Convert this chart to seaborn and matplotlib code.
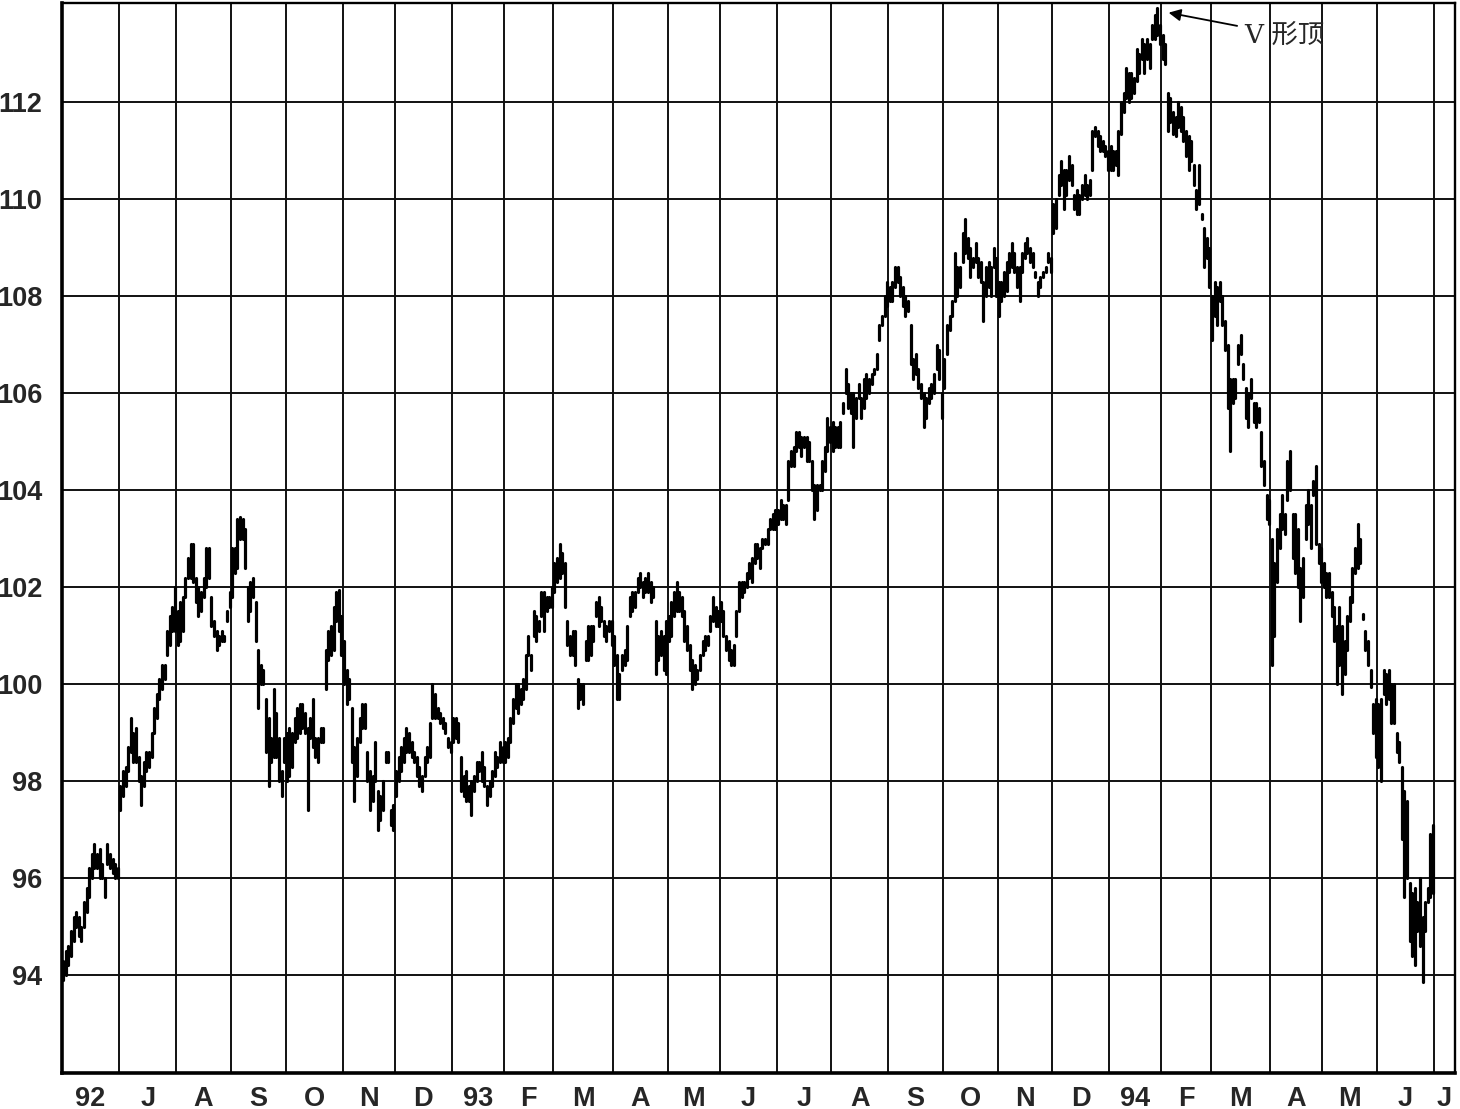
import numpy as np
import pandas as pd
import matplotlib.pyplot as plt
import seaborn as sns

# month axis: Jun 1992 .. Jul 1994 (trading days per month)
month_labels = ['92', 'J', 'A', 'S', 'O', 'N', 'D', '93', 'F', 'M', 'A', 'M', 'J',
                'J', 'A', 'S', 'O', 'N', 'D', '94', 'F', 'M', 'A', 'M', 'J', 'J']
month_days = [22, 22, 21, 21, 22, 20, 22, 20, 19, 23, 21, 20, 22,
              21, 22, 21, 21, 21, 22, 20, 19, 23, 20, 21, 22, 8]
y_ticks = [94, 96, 98, 100, 102, 104, 106, 108, 110, 112]

# daily highs / lows
hi_1992 = [
    94.3, 94.5, 94.6, 94.9, 95.2, 95.3, 95.2, 95.0, 95.5, 95.8, 96.2, 96.5, 96.7, 96.5, 96.6, 96.3, 96.0, 96.7, 96.5, 96.4, 96.3, 96.2,
    97.9, 98.2, 98.3, 98.7, 99.3, 99.0, 99.1, 98.5, 98.1, 98.4, 98.6, 98.6, 99.0, 99.5, 99.8, 100.1, 100.4, 100.4, 101.1, 101.4, 101.6, 102.0,
    101.5, 101.7, 101.8, 102.2, 102.6, 102.9, 102.9, 102.2, 102.0, 101.9, 102.2, 102.8, 102.8, 101.8, 101.3, 101.1, 101.0, 101.1, 101.0, 101.5, 101.9,
    102.8, 102.8, 103.4, 103.45, 103.4, 103.2, 102.0, 102.1, 102.2, 101.7, 100.7, 100.4, 100.3, 99.7, 99.3, 98.9, 99.9, 99.4, 98.9, 98.2, 98.9,
    99.0, 99.1, 99.0, 99.3, 99.5, 99.6, 99.6, 99.4, 99.1, 99.3, 99.7, 98.9, 98.9, 99.1, 99.1, 100.7, 101.1, 101.2, 101.6, 101.9, 101.95, 101.4,
    100.9, 100.3, 100.1, 99.5, 98.7, 98.9, 99.3, 99.6, 99.6, 98.6, 98.2, 98.1, 98.8, 97.8, 97.7, 98.0, 98.6, 98.6, 97.4, 97.5,
    98.2, 98.5, 98.7, 98.9, 99.1, 99.0, 98.8, 98.6, 98.5, 98.3, 98.1, 98.5, 98.7, 99.2, 100.0, 99.8, 99.5, 99.4, 99.3, 99.2, 98.9, 98.8]
lo_1992 = [
    93.9, 94.0, 94.2, 94.4, 94.7, 95.0, 94.8, 94.7, 95.0, 95.3, 95.6, 96.0, 96.2, 96.2, 96.0, 96.0, 95.6, 96.3, 96.2, 96.1, 96.0, 96.0,
    97.4, 97.7, 97.9, 98.2, 98.6, 98.4, 98.4, 98.0, 97.5, 97.9, 98.2, 98.3, 98.5, 99.0, 99.3, 99.7, 99.9, 100.1, 100.6, 100.8, 101.1, 101.1,
    100.8, 100.9, 101.1, 101.8, 102.2, 102.2, 102.1, 101.7, 101.4, 101.5, 101.8, 102.0, 102.2, 101.2, 101.0, 100.7, 100.8, 100.9, 100.9, 101.3, 101.6,
    101.8, 102.3, 102.4, 103.0, 103.0, 102.4, 101.3, 101.5, 101.8, 100.9, 99.5, 100.0, 100.0, 98.6, 97.9, 98.4, 98.5, 98.5, 98.0, 97.7, 98.4,
    98.0, 98.1, 98.3, 98.8, 98.9, 99.0, 99.1, 99.0, 97.4, 98.9, 98.7, 98.5, 98.4, 98.8, 98.8, 99.9, 100.5, 100.6, 100.7, 101.3, 101.1, 100.6,
    100.0, 99.6, 99.7, 98.4, 97.6, 98.1, 98.8, 99.1, 99.1, 98.0, 97.4, 97.6, 98.0, 97.0, 97.2, 97.4, 98.4, 98.4, 97.1, 97.0,
    97.7, 98.0, 98.2, 98.4, 98.6, 98.6, 98.5, 98.4, 98.1, 97.9, 97.8, 98.1, 98.4, 98.5, 99.3, 99.3, 99.3, 99.2, 99.1, 99.0, 98.7, 98.6]

hi_1993 = [
    99.3, 99.3, 99.2, 98.5, 98.1, 98.2, 97.9, 98.0, 98.1, 98.4, 98.4, 98.6, 98.3, 97.9, 98.0, 98.2, 98.6, 98.5, 98.8, 98.7,
    98.8, 98.9, 99.3, 99.7, 100.0, 100.0, 99.9, 100.1, 100.6, 101.0, 100.6, 101.5, 101.4, 101.3, 101.9, 101.9, 101.8, 101.8, 102.0,
    102.5, 102.6, 102.9, 102.7, 102.5, 101.3, 101.0, 101.1, 101.1, 100.1, 100.0, 100.0, 100.9, 101.2, 101.2, 101.2, 101.7, 101.8, 101.6, 101.3, 101.2, 101.3, 101.3,
    101.0, 100.6, 100.2, 100.6, 100.7, 101.2, 101.8, 101.9, 101.9, 102.2, 102.3, 102.1, 102.2, 102.3, 102.1, 102.0, 101.3, 101.0, 101.1, 101.0, 101.3,
    101.4, 101.7, 101.9, 102.1, 101.9, 101.8, 101.5, 101.2, 100.8, 100.5, 100.4, 100.3, 100.6, 100.9, 101.0, 101.0, 101.4, 101.8, 101.6, 101.5,
    101.7, 101.5, 101.0, 100.9, 100.7, 100.8, 101.5, 102.1, 102.1, 102.1, 102.3, 102.5, 102.6, 102.9, 102.9, 102.8, 103.0, 103.0, 103.2, 103.4, 103.5, 103.6,
    103.6, 103.8, 103.7, 103.7, 104.6, 104.8, 104.9, 105.2, 105.2, 105.1, 105.1, 105.1, 105.0, 104.6, 104.1, 104.1, 104.1, 104.6, 104.9, 105.5, 105.3,
    105.4, 105.3, 105.3, 105.4, 105.8, 106.5, 106.2, 106.0, 106.0, 105.9, 106.2, 105.9, 106.3, 106.4, 106.3, 106.4, 106.5, 106.8, 107.4, 107.6, 108.0, 108.3,
    108.2, 108.3, 108.6, 108.6, 108.4, 108.2, 108.0, 107.9, 107.4, 106.7, 106.8, 106.5, 106.2, 106.0, 105.9, 106.1, 106.2, 106.4, 107.0, 106.9, 106.0,
    106.7, 107.4, 107.6, 107.9, 108.9, 108.6, 108.6, 109.3, 109.6, 109.2, 109.0, 108.8, 109.1, 108.8, 108.7, 108.3, 108.6, 108.7, 108.6, 109.0, 108.8,
    108.3, 108.3, 108.5, 108.7, 108.9, 109.1, 108.9, 108.6, 108.6, 108.9, 109.1, 109.2, 109.0, 108.9, 108.5, 108.3, 108.4, 108.5, 108.6, 108.9, 108.8,
    109.9, 110.0, 110.5, 110.8, 110.6, 110.6, 110.9, 110.7, 110.1, 110.2, 110.1, 110.3, 110.5, 110.3, 110.4, 111.4, 111.5, 111.4, 111.3, 111.2, 111.1, 111.0]
lo_1993 = [
    98.8, 98.9, 98.8, 97.8, 97.7, 97.6, 97.6, 97.3, 97.8, 98.0, 98.2, 98.0, 97.9, 97.5, 97.7, 97.9, 98.1, 98.3, 98.4, 98.4,
    98.4, 98.5, 98.8, 99.2, 99.5, 99.4, 99.6, 99.7, 99.9, 100.6, 100.3, 101.0, 100.9, 101.1, 101.4, 101.1, 101.5, 101.6, 101.6,
    101.9, 102.1, 102.2, 102.3, 101.6, 100.8, 100.6, 100.6, 100.4, 99.5, 99.7, 99.6, 100.5, 100.5, 100.6, 100.9, 101.4, 101.2, 101.3, 101.0, 100.9, 101.1, 100.8,
    100.4, 99.7, 99.7, 100.3, 100.4, 100.5, 101.4, 101.5, 101.6, 101.9, 102.0, 101.8, 101.9, 101.9, 101.7, 101.8, 100.2, 100.5, 100.6, 100.3, 100.2,
    100.9, 101.0, 101.4, 101.5, 101.5, 101.4, 100.9, 100.7, 100.3, 99.9, 100.0, 100.1, 100.3, 100.6, 100.7, 100.8, 101.1, 101.3, 101.2, 101.2,
    101.3, 101.0, 100.7, 100.5, 100.4, 100.4, 101.0, 101.5, 101.8, 101.9, 102.0, 102.2, 102.1, 102.5, 102.6, 102.4, 102.8, 102.9, 102.9, 103.2, 103.2, 103.2,
    103.3, 103.4, 103.4, 103.3, 103.8, 104.5, 104.5, 104.8, 104.9, 104.7, 104.9, 104.6, 104.6, 104.0, 103.4, 103.6, 104.0, 104.0, 104.4, 104.8, 105.0,
    104.8, 104.9, 104.9, 104.9, 105.6, 106.0, 105.7, 105.6, 104.9, 105.5, 105.9, 105.5, 105.7, 105.9, 106.0, 106.2, 106.4, 106.5, 107.1, 107.4, 107.6, 107.8,
    107.9, 107.9, 108.2, 108.3, 108.0, 107.8, 107.6, 107.7, 106.6, 106.3, 106.4, 106.1, 105.9, 105.3, 105.5, 105.8, 105.9, 106.0, 106.5, 106.3, 105.5,
    106.1, 106.8, 107.3, 107.6, 107.9, 108.0, 108.2, 108.7, 108.9, 108.8, 108.4, 108.6, 108.7, 108.4, 108.3, 107.5, 108.0, 108.2, 108.0, 108.6, 108.0,
    107.6, 107.9, 108.0, 108.1, 108.5, 108.6, 108.5, 108.2, 107.9, 108.5, 108.8, 108.9, 108.7, 108.6, 108.4, 108.0, 108.2, 108.4, 108.5, 108.7, 108.5,
    109.3, 109.4, 110.1, 110.3, 109.8, 110.1, 110.4, 110.3, 109.8, 109.7, 109.7, 110.0, 110.1, 110.0, 110.1, 110.6, 111.3, 111.1, 111.0, 111.0, 110.9, 110.6]

hi_1994 = [
    111.1, 111.0, 111.0, 111.4, 112.0, 112.2, 112.7, 112.6, 112.6, 112.5, 113.1, 113.0, 113.3, 113.2, 113.3, 113.2, 113.6, 113.8, 113.95, 113.6,
    113.4, 113.2, 112.2, 112.1, 111.8, 111.7, 112.0, 111.9, 111.7, 111.4, 111.3, 111.2, 110.7, 110.2, 110.7, 109.7, 109.4, 109.2, 109.0,
    108.0, 108.3, 108.2, 108.3, 108.0, 107.5, 107.0, 106.3, 106.3, 106.3, 107.0, 107.2, 106.6, 106.1, 106.0, 106.3, 105.8, 105.8, 105.7, 105.2, 104.6, 103.9, 103.8,
    103.0, 102.5, 103.2, 103.5, 103.9, 103.5, 104.6, 104.8, 103.5, 103.5, 103.2, 102.4, 102.6, 103.7, 104.0, 103.7, 104.2, 104.5, 102.9, 102.8,
    102.5, 102.3, 102.3, 101.9, 101.6, 101.2, 101.6, 101.2, 100.9, 101.4, 101.8, 102.4, 102.8, 103.3, 103.0, 101.45, 101.1, 100.9, 100.3, 99.6, 99.7,
    99.6, 99.7, 100.3, 100.2, 100.3, 100.0, 100.0, 99.0, 98.8, 98.3, 97.8, 97.6, 95.9, 95.7, 95.8, 95.5, 96.0, 95.2, 95.5, 95.8, 96.9, 97.1]
lo_1994 = [
    110.6, 110.6, 110.7, 110.5, 111.35, 111.8, 112.1, 112.0, 112.1, 112.2, 112.45, 112.6, 112.9, 112.6, 112.9, 112.7, 113.3, 113.3, 113.4, 113.2,
    112.9, 112.8, 111.4, 111.6, 111.35, 111.3, 111.5, 111.4, 111.2, 110.9, 110.6, 110.8, 110.3, 109.8, 109.9, 109.6, 108.6, 108.8, 108.2,
    107.1, 107.6, 107.4, 107.9, 107.4, 106.9, 105.7, 104.8, 105.8, 105.9, 106.6, 106.8, 106.3, 105.5, 105.3, 105.9, 105.4, 105.3, 105.4, 104.5, 104.1, 103.4, 103.3,
    100.4, 101.0, 102.1, 102.8, 103.2, 103.1, 103.8, 104.0, 102.6, 102.3, 102.0, 101.3, 101.8, 103.0, 103.3, 102.8, 103.9, 102.9, 102.5, 102.1,
    102.0, 101.8, 101.8, 101.4, 100.9, 100.0, 100.4, 99.8, 100.2, 100.7, 101.3, 101.7, 102.3, 102.4, 102.5, 101.35, 100.7, 100.4, 99.95, 99.0, 98.5,
    98.3, 98.0, 99.8, 99.6, 99.7, 99.2, 99.2, 98.6, 98.4, 96.8, 95.6, 96.0, 94.7, 94.4, 94.2, 94.9, 94.6, 93.85, 94.9, 95.5, 95.6, 95.7]

hi = np.array(hi_1992 + hi_1993 + hi_1994)
lo = np.array(lo_1992 + lo_1993 + lo_1994)
assert len(hi) == len(lo) == sum(month_days[:-1])

day = np.arange(len(hi)) + 0.5
df = pd.DataFrame({'day': np.r_[day, day], 'price': np.r_[lo, hi]})

sns.set_style('white')
plt.rcParams['font.family'] = ['Liberation Sans', 'DejaVu Sans']

fig = plt.figure(figsize=(14.6, 11.09), dpi=100)
ax = fig.add_axes([62 / 1460, 36 / 1109, 1393 / 1460, 1070 / 1109])

# each trading day as a vertical high-low bar
sns.lineplot(data=df, x='day', y='price', units='day', estimator=None,
             sort=False, color='black', lw=2.3, ax=ax, legend=False)

starts = np.cumsum([0] + month_days)
total = starts[-1]
ax.set_xlim(0, total)
ax.set_ylim(91.98, 114.05)

ax.set_xticks(starts[1:-1])
ax.set_xticklabels([])
ax.set_xticks(np.arange(3.5, total, 5), minor=True)
ax.set_yticks(y_ticks)
ax.set_yticklabels([str(v) for v in y_ticks], fontsize=19.5, fontweight='bold')
ax.grid(True, which='major', color='#111111', lw=1.4)
ax.tick_params(axis='x', which='major', direction='out', length=12, width=1.4, color='#111111')
ax.tick_params(axis='x', which='minor', direction='inout', length=10, width=1.3, color='#111111')
ax.tick_params(axis='y', which='major', direction='out', length=2, pad=12, color='#111111')
ax.set_xlabel('')
ax.set_ylabel('')

for side in ['left', 'bottom']:
    ax.spines[side].set_linewidth(2.6)
for side in ['top', 'right']:
    ax.spines[side].set_linewidth(1.7)
for sp in ax.spines.values():
    sp.set_color('black')

centers = (starts[:-1] + starts[1:]) / 2
for c, lab in zip(centers, month_labels):
    ax.text(c, -0.012, lab, transform=ax.get_xaxis_transform(), ha='center', va='top',
            fontsize=19.5, fontweight='bold')

# annotate the V top
pk = int(np.argmax(hi))
ax.annotate('V 形顶', xy=(day[pk] + 4.3, hi[pk] - 0.1), xytext=(day[pk] + 33.5, hi[pk] - 0.56),
            ha='left', va='center', fontsize=19, family=['DejaVu Serif', 'Noto Sans CJK SC'],
            arrowprops=dict(arrowstyle='-|>', color='black', lw=1.3, mutation_scale=18,
                            shrinkA=3, shrinkB=0))

fig.savefig('out.png', dpi=100)
